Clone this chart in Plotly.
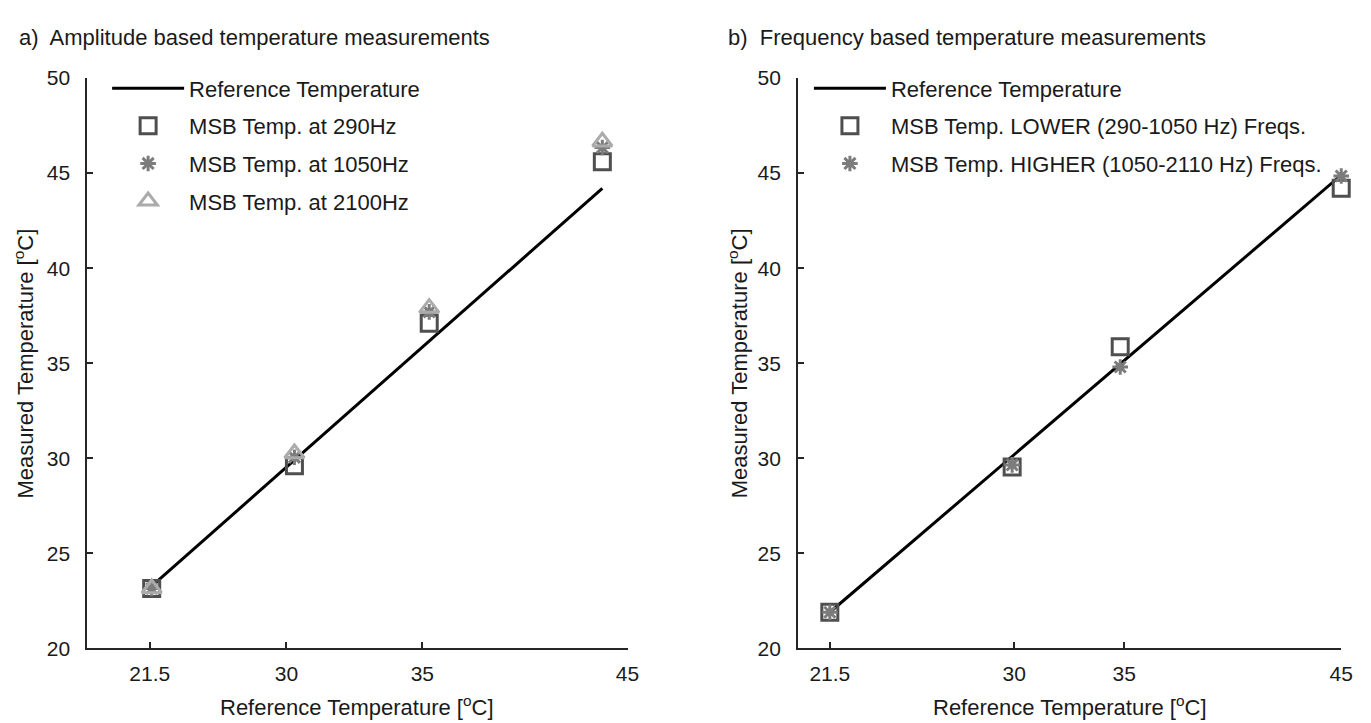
import plotly.graph_objects as go

W, H = 1371, 723

# ---- panel a) amplitude based ----
a_ref_x = [23.27, 29.9, 36.16, 44.2]
a_msb_290 = [23.15, 29.6, 37.1, 45.6]
a_msb_1050 = [23.15, 30.05, 37.7, 46.35]
a_msb_2100 = [23.15, 30.25, 37.9, 46.65]
a_tick_pos = [23.18, 29.53, 35.84, 45.37]
a_tick_text = ["21.5", "30", "35", "45"]

# ---- panel b) frequency based ----
b_ref_x = [21.9, 30.1, 34.96, 44.9]
b_msb_lower = [21.9, 29.54, 35.87, 44.2]
b_msb_higher = [21.9, 29.65, 34.8, 44.85]
b_tick_pos = [21.9, 30.19, 35.14, 44.9]
b_tick_text = ["21.5", "30", "35", "45"]

y_ticks = [20, 25, 30, 35, 40, 45, 50]

FONT = "Liberation Sans"
AXIS_COL = "#262626"
TXT_COL = "#1a1a1a"


def px_x(p):
    return p / W


def px_y(p):
    return 1 - p / H


fig = go.Figure()


def add_ref(x, xa, ya, leg):
    fig.add_trace(go.Scatter(
        x=x, y=x, mode="lines", name="Reference Temperature",
        line=dict(color="black", width=3), xaxis=xa, yaxis=ya,
        legend=leg, legendgroup=leg + "ref"))


def add_pts(x, y, name, symbol, color, size, xa, ya, leg):
    fig.add_trace(go.Scatter(
        x=x, y=y, mode="markers", name=name,
        marker=dict(symbol=symbol, size=size, color=color,
                    line=dict(color=color, width=3)),
        xaxis=xa, yaxis=ya, cliponaxis=False,
        legend=leg, legendgroup=leg + name))


add_ref(a_ref_x, "x", "y", "legend")
add_pts(a_ref_x, a_msb_290, "MSB Temp. at 290Hz", "square-open", "#4f4f4f", 16, "x", "y", "legend")
add_pts(a_ref_x, a_msb_1050, "MSB Temp. at 1050Hz", "asterisk-open", "#7c7c7c", 13, "x", "y", "legend")
add_pts(a_ref_x, a_msb_2100, "MSB Temp. at 2100Hz", "triangle-up-open", "#ababab", 17, "x", "y", "legend")

add_ref(b_ref_x, "x2", "y2", "legend2")
add_pts(b_ref_x, b_msb_lower, "MSB Temp. LOWER (290-1050 Hz) Freqs.", "square-open", "#4f4f4f", 16, "x2", "y2", "legend2")
add_pts(b_ref_x, b_msb_higher, "MSB Temp. HIGHER (1050-2110 Hz) Freqs.", "asterisk-open", "#7c7c7c", 13, "x2", "y2", "legend2")

axis_common = dict(
    showline=True, linecolor=AXIS_COL, linewidth=2, mirror=False,
    showgrid=False, zeroline=False, ticks="inside", ticklen=6,
    tickwidth=2, tickcolor=AXIS_COL, tickfont=dict(size=21, color=TXT_COL),
    fixedrange=True,
)

y_dom = [px_y(649), px_y(60)]

legend_common = dict(xanchor="left", yanchor="top", bgcolor="rgba(0,0,0,0)",
                     itemwidth=72, tracegroupgap=6, traceorder="grouped",
                     font=dict(size=22, color=TXT_COL))

fig.update_layout(
    width=W, height=H,
    margin=dict(l=0, r=0, t=0, b=0),
    paper_bgcolor="white", plot_bgcolor="white",
    font=dict(family=FONT, size=22, color=TXT_COL),
    xaxis=dict(domain=[px_x(80), px_x(625)], range=[20.28, 45.37],
               tickmode="array", tickvals=a_tick_pos, ticktext=a_tick_text,
               anchor="y", ticklabelstandoff=5, **axis_common),
    yaxis=dict(domain=y_dom, range=[20, 50], tickvals=y_ticks,
               anchor="x", ticklabelstandoff=11, **axis_common),
    xaxis2=dict(domain=[px_x(797), px_x(1345)], range=[20.47, 44.9],
                tickmode="array", tickvals=b_tick_pos, ticktext=b_tick_text,
                anchor="y2", ticklabelstandoff=5, **axis_common),
    yaxis2=dict(domain=y_dom, range=[20, 50], tickvals=y_ticks,
                anchor="x2", ticklabelstandoff=11, **axis_common),
    legend=dict(x=px_x(100), y=px_y(49), **legend_common),
    legend2=dict(x=px_x(808), y=px_y(49), **legend_common),
    showlegend=True,
)

# panel titles and axis titles
annots = [
    dict(text="a)  Amplitude based temperature measurements", x=px_x(9), y=px_y(18),
         xanchor="left", yanchor="middle"),
    dict(text="b)  Frequency based temperature measurements", x=px_x(724), y=px_y(18),
         xanchor="left", yanchor="middle"),
    dict(text="Reference Temperature [<sup>o</sup>C]", x=px_x(352), y=px_y(709),
         xanchor="center", yanchor="middle"),
    dict(text="Reference Temperature [<sup>o</sup>C]", x=px_x(1071), y=px_y(709),
         xanchor="center", yanchor="middle"),
    dict(text="Measured Temperature [<sup>o</sup>C]", x=px_x(16), y=px_y(355),
         xanchor="center", yanchor="middle", textangle=-90),
    dict(text="Measured Temperature [<sup>o</sup>C]", x=px_x(736), y=px_y(355),
         xanchor="center", yanchor="middle", textangle=-90),
]
for a in annots:
    fig.add_annotation(xref="paper", yref="paper", showarrow=False,
                       font=dict(family=FONT, size=22, color=TXT_COL), **a)

fig.write_html("out.html")
